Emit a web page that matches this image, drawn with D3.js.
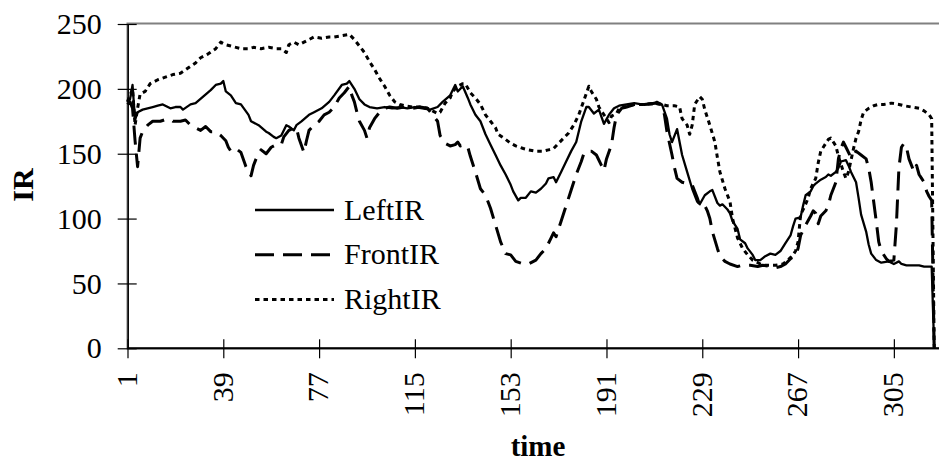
<!DOCTYPE html>
<html>
<head>
<meta charset="utf-8">
<script src="https://cdn.jsdelivr.net/npm/d3@7"></script>
<style>
  html, body { margin: 0; padding: 0; background: #fff; }
  svg { display: block; }
  text { font-family: "Liberation Serif", "Times New Roman", serif; fill: #000; }
</style>
</head>
<body>
<svg id="chart" width="939" height="465"></svg>
<script>
// Sensor readings over time: [time step, IR value]
const leftIR = [[1,190],[2,192],[3,203],[4,176],[5,182],[7,184],[9,185],[11,186],[13,187],[15,188],[18,185],[20,186],[22,186],[23,184],[26,188],[28,189],[31,194],[34,199],[36,203],[38,204],[39,206],[40,198],[42,195],[44,189],[46,188],[49,180],[50,175],[53,172],[56,167],[57,166],[59,163],[60,162],[62,164],[64,172],[65,171],[67,168],[68,172],[70,175],[73,180],[75,182],[78,185],[81,190],[83,195],[86,203],[88,204],[89,206],[91,200],[93,192],[95,188],[97,186],[100,185],[103,186],[106,185],[109,186],[112,185],[115,186],[118,185],[121,184],[124,186],[126,190],[129,195],[131,203],[132,198],[134,202],[136,193],[137,188],[139,180],[141,175],[143,165],[145,157],[147,149],[149,141],[151,134],[153,126],[154,121],[156,114],[157,116],[159,116],[161,121],[163,120],[165,123],[167,127],[168,131],[170,132],[171,128],[173,136],[175,144],[177,152],[179,159],[181,175],[183,186],[184,186],[186,181],[188,184],[190,173],[192,180],[194,185],[196,187],[199,188],[202,189],[205,188],[209,188],[211,190],[213,188],[215,177],[216,165],[217,159],[219,169],[221,149],[223,136],[225,123],[227,113],[228,111],[230,118],[232,121],[233,122],[235,112],[236,110],[237,111],[239,107],[240,104],[241,98],[243,92],[244,84],[246,81],[247,77],[249,72],[250,68],[252,68],[254,71],[256,73],[258,72],[260,75],[262,81],[264,87],[265,94],[266,100],[268,101],[269,110],[270,118],[272,121],[273,125],[274,127],[276,130],[278,132],[279,134],[280,133],[282,136],[283,139],[284,144],[286,145],[287,141],[288,136],[290,128],[291,116],[292,103],[294,90],[295,80],[296,73],[298,68],[300,66],[303,67],[305,65],[307,67],[308,65],[310,64],[312,64],[315,64],[317,63],[320,63],[321,0]];

const frontIR = [[1,188],[2,190],[3,185],[4,160],[5,140],[6,162],[7,167],[9,172],[11,175],[14,175],[17,177],[19,175],[22,175],[24,176],[26,172],[28,170],[30,168],[32,171],[34,167],[36,167],[38,164],[40,160],[41,155],[42,152],[43,153],[44,154],[46,151],[48,140],[50,133],[51,141],[52,146],[54,153],[56,150],[58,155],[60,157],[62,157],[63,163],[65,168],[67,170],[68,170],[69,162],[71,151],[72,160],[73,168],[75,172],[77,175],[79,180],[81,182],[83,186],[85,193],[87,197],[89,202],[90,195],[91,190],[92,182],[93,175],[95,168],[96,162],[97,170],[99,177],[101,182],[103,185],[105,186],[108,185],[111,186],[114,185],[117,186],[120,185],[122,180],[124,175],[125,164],[127,158],[128,157],[129,156],[131,157],[132,159],[133,156],[135,157],[136,155],[137,148],[139,136],[141,123],[143,118],[145,108],[147,95],[149,82],[151,73],[153,72],[155,67],[158,65],[160,65],[163,68],[165,73],[167,77],[169,85],[170,89],[171,86],[173,98],[175,110],[177,122],[179,134],[181,144],[182,150],[183,152],[185,152],[187,149],[189,141],[190,137],[191,146],[193,157],[194,170],[195,180],[197,185],[199,186],[202,188],[206,188],[210,189],[213,188],[214,180],[215,167],[217,149],[218,139],[219,131],[221,128],[223,127],[225,126],[227,116],[228,110],[230,110],[231,106],[232,100],[233,90],[235,77],[236,71],[238,67],[240,65],[243,63],[245,64],[248,64],[251,63],[253,64],[256,63],[258,62],[260,63],[262,65],[264,69],[266,72],[267,77],[268,87],[270,95],[272,102],[273,106],[274,104],[275,96],[276,102],[278,106],[279,110],[280,118],[282,128],[283,146],[284,154],[285,159],[286,155],[288,147],[289,149],[290,152],[292,149],[294,146],[295,139],[296,128],[297,113],[298,98],[299,82],[300,75],[302,69],[303,67],[305,68],[306,95],[307,139],[308,155],[309,158],[310,155],[311,146],[312,141],[313,136],[314,141],[315,134],[316,131],[317,128],[318,121],[319,117],[320,114],[321,0]];

const rightIR = [[1,190],[2,195],[3,200],[4,172],[5,185],[6,196],[8,198],[10,204],[13,207],[16,209],[19,211],[22,212],[25,216],[28,220],[30,224],[33,227],[36,231],[38,236],[40,234],[42,233],[44,232],[46,231],[49,231],[51,232],[54,231],[57,232],[60,231],[62,231],[64,228],[65,234],[67,236],[69,234],[71,236],[73,238],[75,240],[78,239],[81,240],[83,240],[86,241],[89,242],[91,238],[93,233],[95,228],[97,221],[99,215],[101,208],[103,202],[105,195],[107,190],[109,188],[111,187],[114,186],[117,186],[120,185],[122,183],[124,181],[125,182],[127,189],[129,193],[130,198],[132,202],[134,204],[135,204],[137,197],[139,193],[141,188],[143,180],[145,175],[147,170],[148,165],[151,161],[153,158],[155,156],[158,154],[160,153],[163,152],[166,152],[168,153],[170,154],[172,158],[174,162],[176,166],[178,172],[180,180],[182,191],[184,202],[185,198],[187,192],[188,186],[190,180],[192,174],[193,179],[195,181],[196,185],[198,186],[202,188],[206,188],[210,189],[213,188],[215,187],[218,187],[220,186],[221,177],[223,172],[224,165],[225,172],[226,188],[228,194],[229,192],[230,184],[232,172],[234,159],[235,147],[236,136],[238,123],[240,113],[241,100],[243,85],[245,77],[247,72],[249,68],[251,66],[253,64],[256,64],[258,64],[261,65],[263,68],[265,72],[266,75],[267,82],[268,103],[270,111],[271,116],[272,123],[274,131],[275,143],[276,152],[278,158],[279,161],[280,162],[282,156],[283,148],[285,136],[286,131],[287,136],[289,154],[290,162],[291,167],[292,176],[293,182],[295,185],[297,187],[299,188],[301,188],[304,189],[307,188],[309,187],[312,186],[315,185],[317,183],[319,180],[320,177],[321,0]];

const seriesNames = ["LeftIR", "FrontIR", "RightIR"];
const xTicks = [1, 39, 77, 115, 153, 191, 229, 267, 305];
const yTicks = [0, 50, 100, 150, 200, 250];

const svg = d3.select("#chart");
const x = d3.scaleLinear().domain([1, 321]).range([127.5, 934.2]);
const y = d3.scaleLinear().domain([0, 250]).range([348.3, 24]);

// plot area frame (right side runs past the visible edge)
svg.append("rect")
  .attr("x", 127.5).attr("y", 23.5)
  .attr("width", 830).attr("height", 325)
  .attr("fill", "none").attr("stroke", "#808080").attr("stroke-width", 2);

const styles = {
  LeftIR:  { dash: null,    width: 2.3 },
  FrontIR: { dash: "19,9",  width: 3 },
  RightIR: { dash: "4.5,4", width: 3 }
};
const data = { LeftIR: leftIR, FrontIR: frontIR, RightIR: rightIR };

const line = d3.line().x(d => x(d[0])).y(d => y(d[1]));

// draw the back-most first so the solid line sits on top
["RightIR", "FrontIR", "LeftIR"].forEach(name => {
  svg.append("path")
    .datum(data[name])
    .attr("d", line)
    .attr("fill", "none")
    .attr("stroke", "#000")
    .attr("stroke-width", styles[name].width)
    .attr("stroke-dasharray", styles[name].dash)
    .attr("stroke-linejoin", "round");
});

// y axis
const yAxis = svg.append("g")
  .attr("transform", "translate(127.7,0)")
  .call(d3.axisLeft(y).tickValues(yTicks).tickSizeInner(10).tickSizeOuter(0).tickPadding(16));
yAxis.select(".domain").attr("stroke", "#000").attr("stroke-width", 1.5);
yAxis.selectAll(".tick line").attr("x1", 9).attr("x2", -10).attr("stroke", "#000").attr("stroke-width", 1.2);
yAxis.selectAll(".tick text")
  .style("font-family", "'Liberation Serif', serif")
  .style("font-size", "30px").attr("fill", "#000");

// x axis
const xAxis = svg.append("g")
  .attr("transform", "translate(0,348.3)")
  .call(d3.axisBottom(x).tickValues(xTicks).tickSizeInner(10).tickSizeOuter(0).tickFormat(d3.format("d")));
xAxis.select(".domain").attr("d", "M127.5,0H945").attr("stroke", "#000").attr("stroke-width", 2);
xAxis.selectAll(".tick line").attr("y1", -9).attr("y2", 10).attr("stroke", "#000").attr("stroke-width", 1.2);
xAxis.selectAll(".tick text")
  .style("font-family", "'Liberation Serif', serif")
  .style("font-size", "30px").attr("fill", "#000")
  .attr("text-anchor", "end")
  .attr("y", 0).attr("dy", "0.33em")
  .attr("transform", "translate(-1,24) rotate(-90)");

// axis titles
svg.append("text")
  .attr("transform", "translate(33,185) rotate(-90)")
  .attr("text-anchor", "middle")
  .style("font-size", "30px").style("font-weight", "bold")
  .text("IR");
svg.append("text")
  .attr("x", 538).attr("y", 456)
  .attr("text-anchor", "middle")
  .style("font-size", "29px").style("font-weight", "bold")
  .text("time");

// legend
const legend = svg.append("g");
seriesNames.forEach((name, i) => {
  const yy = 210 + i * 44.7;
  legend.append("line")
    .attr("x1", 255).attr("x2", 334).attr("y1", yy).attr("y2", yy)
    .attr("stroke", "#000")
    .attr("stroke-width", styles[name].width)
    .attr("stroke-dasharray", styles[name].dash);
  legend.append("text")
    .attr("x", 344).attr("y", yy + 9.5)
    .style("font-size", "30px")
    .text(name);
});
</script>
</body>
</html>
